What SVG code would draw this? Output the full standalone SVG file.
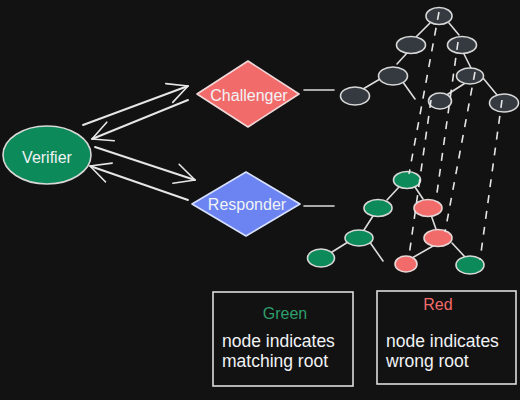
<svg xmlns="http://www.w3.org/2000/svg" width="520" height="400" viewBox="0 0 520 400">
  <defs>
    <marker id="arr" viewBox="0 0 24 24" refX="21" refY="12" markerWidth="24" markerHeight="24" markerUnits="userSpaceOnUse" orient="auto">
      <path d="M1,2 L21,12 L1,22" fill="none" stroke="#e6e6e6" stroke-width="1.6" stroke-linecap="round" stroke-linejoin="round"/>
    </marker>
  </defs>
  <style>
    .bg { fill: #121212; }
    .lbl { font-family: "Liberation Sans", Arial, sans-serif; font-size: 16px; fill: #f1f3f5; text-anchor: middle; dominant-baseline: central; }
    .leg { font-family: "Liberation Sans", Arial, sans-serif; font-size: 17.5px; fill: #f1f3f5; }
    .ttl { font-family: "Liberation Sans", Arial, sans-serif; font-size: 16px; text-anchor: middle; }
    .edge { stroke: #dcdcdc; stroke-width: 1.6; fill: none; stroke-linecap: round; }
    .arrow { stroke: #e6e6e6; stroke-width: 1.9; fill: none; stroke-linecap: round; }
    .dash { stroke: #e6e6e6; stroke-width: 1.6; fill: none; stroke-dasharray: 8 8; }
    .gray { fill: #343a40; stroke: #d8d8d8; stroke-width: 1.6; }
    .green { fill: #0c8a5a; stroke: #d8d8d8; stroke-width: 1.6; }
    .red { fill: #f26b6b; stroke: #e6d6d6; stroke-width: 1.6; }
    .box { fill: none; stroke: #dcdcdc; stroke-width: 1.6; }
  </style>
  <rect class="bg" x="0" y="0" width="520" height="400"/>

  <g id="connectors">
    <line class="arrow" x1="83" y1="125" x2="188" y2="86" marker-end="url(#arr)"/>
    <line class="arrow" x1="188" y1="100" x2="92" y2="139" marker-end="url(#arr)"/>
    <line class="arrow" x1="95" y1="147" x2="195" y2="180" marker-end="url(#arr)"/>
    <line class="arrow" x1="188" y1="200" x2="90" y2="166" marker-end="url(#arr)"/>
    <line class="edge" x1="304" y1="90" x2="334" y2="90" stroke-width="2.2"/>
    <line class="edge" x1="304" y1="206" x2="334" y2="206" stroke-width="2.2"/>
    <!-- upper tree edges -->
    <line class="edge" x1="430" y1="23" x2="416" y2="37"/>
    <line class="edge" x1="449" y1="23" x2="459" y2="35" stroke-width="2.2"/>
    <line class="edge" x1="407" y1="53" x2="397" y2="64"/>
    <line class="edge" x1="462" y1="50" x2="472" y2="70" stroke-width="2.2"/>
    <line class="edge" x1="380" y1="79" x2="363" y2="89"/>
    <line class="edge" x1="400" y1="78" x2="415" y2="99"/>
    <line class="edge" x1="470" y1="80" x2="445" y2="96"/>
    <line class="edge" x1="483" y1="78" x2="497" y2="95"/>
    <!-- lower tree edges -->
    <line class="edge" x1="399" y1="187" x2="387" y2="200"/>
    <line class="edge" x1="415" y1="187" x2="423" y2="199"/>
    <line class="edge" x1="373" y1="216" x2="364" y2="230"/>
    <line class="edge" x1="430" y1="212" x2="437" y2="232"/>
    <line class="edge" x1="348" y1="242" x2="332" y2="252"/>
    <line class="edge" x1="369" y1="241" x2="383" y2="261"/>
    <line class="edge" x1="433" y1="246" x2="412" y2="258"/>
    <line class="edge" x1="452" y1="243" x2="465" y2="257"/>
  </g>

  <g id="verifier">
    <ellipse class="green" cx="47" cy="155" rx="44" ry="29"/>
    <text class="lbl" x="47" y="157">Verifier</text>
  </g>
  <g id="challenger">
    <polygon points="248,61 299,94 248,127 197,94" fill="#f26b6b" stroke="#f0d8d8" stroke-width="1.6" stroke-linejoin="round"/>
    <text class="lbl" x="249" y="95">Challenger</text>
  </g>
  <g id="responder">
    <polygon points="246,172 300,204 246,236 192,204" fill="#6b84f2" stroke="#d8e0ff" stroke-width="1.6" stroke-linejoin="round"/>
    <text class="lbl" x="247" y="204">Responder</text>
  </g>

  <g id="upper-tree">
    <ellipse class="gray" cx="439" cy="16" rx="13" ry="8.5"/>
    <ellipse class="gray" cx="411" cy="45" rx="14.5" ry="8.5"/>
    <ellipse class="gray" cx="462" cy="45" rx="14.5" ry="8.5"/>
    <ellipse class="gray" cx="393" cy="76" rx="14.5" ry="9"/>
    <ellipse class="gray" cx="470" cy="76" rx="13.5" ry="8"/>
    <ellipse class="gray" cx="355" cy="96" rx="14.5" ry="9"/>
    <ellipse class="gray" cx="440" cy="101" rx="11.5" ry="8"/>
    <ellipse class="gray" cx="504" cy="103" rx="14.5" ry="9"/>
  </g>

  <g id="lower-tree">
    <ellipse class="green" cx="407" cy="180" rx="13.5" ry="8.5"/>
    <ellipse class="green" cx="378" cy="208" rx="14" ry="8.5"/>
    <ellipse class="red" cx="428" cy="208" rx="14" ry="8.5"/>
    <ellipse class="green" cx="359" cy="238" rx="14" ry="8"/>
    <ellipse class="red" cx="438" cy="238" rx="14" ry="8.5"/>
    <ellipse class="green" cx="321" cy="258" rx="13.5" ry="9"/>
    <ellipse class="red" cx="406" cy="264" rx="11" ry="8"/>
    <ellipse class="green" cx="470" cy="265" rx="14" ry="9"/>
  </g>

  <g id="mapping">
    <line class="dash" x1="439" y1="12" x2="409" y2="174"/>
    <line class="dash" x1="458" y1="42" x2="436" y2="200"/>
    <line class="dash" x1="431" y1="100" x2="409" y2="256"/>
    <line class="dash" x1="475" y1="72" x2="445" y2="232"/>
    <line class="dash" x1="502" y1="100" x2="480" y2="260"/>
  </g>

  <g id="legend-green">
    <rect class="box" x="213" y="292" width="140" height="94"/>
    <text class="ttl" x="285" y="319" fill="#2f9e6c">Green</text>
    <text class="leg" x="222" y="347">node indicates</text>
    <text class="leg" x="222" y="367">matching root</text>
  </g>
  <g id="legend-red">
    <rect class="box" x="377" y="291" width="139" height="93"/>
    <text class="ttl" x="438" y="310" fill="#f26b6b">Red</text>
    <text class="leg" x="386" y="347">node indicates</text>
    <text class="leg" x="386" y="367">wrong root</text>
  </g>
</svg>
